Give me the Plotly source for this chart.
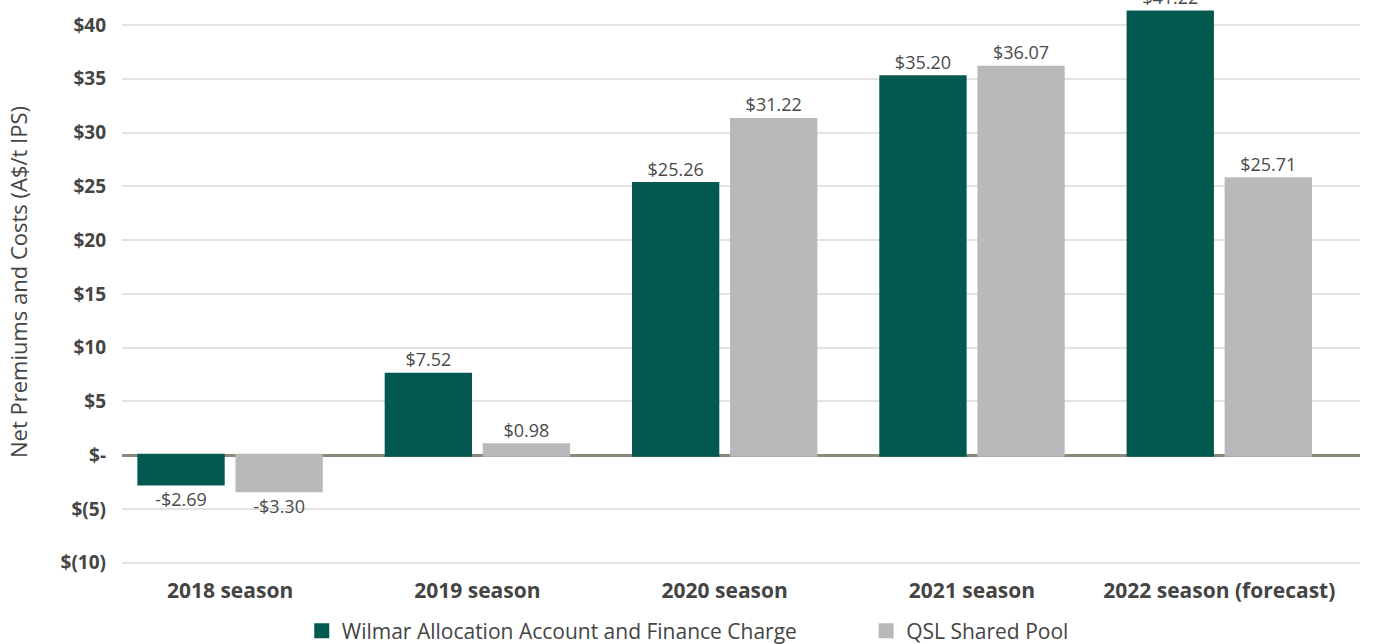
import plotly.graph_objects as go

categories = ["2018 season", "2019 season", "2020 season", "2021 season", "2022 season (forecast)"]
wilmar = [-2.69, 7.52, 25.26, 35.20, 41.22]
qsl = [-3.30, 0.98, 31.22, 36.07, 25.71]
wilmar_labels = ["-$2.69", "$7.52", "$25.26", "$35.20", "$41.22"]
qsl_labels = ["-$3.30", "$0.98", "$31.22", "$36.07", "$25.71"]
tick_vals = [-10, -5, 0, 5, 10, 15, 20, 25, 30, 35, 40]
tick_text = ["$(10)", "$(5)", "$-", "$5", "$10", "$15", "$20", "$25", "$30", "$35", "$40"]

FONT = "Open Sans"
GREEN = "#03594f"
GREY = "#b8b9bb"
LABEL_FONT = dict(family=FONT, size=18, color="#4a4a4a")

fig = go.Figure()
fig.add_trace(go.Bar(
    x=categories, y=wilmar, name="Wilmar Allocation Account and Finance Charge",
    marker=dict(color=GREEN, line=dict(color=GREEN, width=3)),
    text=wilmar_labels, textposition="outside",
    textfont=LABEL_FONT, cliponaxis=False, legend="legend",
))
fig.add_trace(go.Bar(
    x=categories, y=qsl, name="QSL Shared Pool",
    marker=dict(color=GREY, line=dict(color=GREY, width=3)),
    text=qsl_labels, textposition="outside",
    textfont=LABEL_FONT, cliponaxis=False, legend="legend2",
))

legend_common = dict(
    orientation="h", xref="container", yref="container",
    yanchor="middle", y=0.02, xanchor="left",
    font=dict(family=FONT, size=21, color="#444444"),
    bgcolor="rgba(0,0,0,0)",
)

fig.update_layout(
    width=1397, height=644,
    margin=dict(l=122, r=37, t=0, b=80),
    paper_bgcolor="white", plot_bgcolor="white",
    barmode="group", bargap=0.207, bargroupgap=0.14,
    font=dict(family=FONT, color="#444444"),
    showlegend=True,
    legend=dict(x=0.216, **legend_common),
    legend2=dict(x=0.620, **legend_common),
    uniformtext=dict(mode=False),
)
fig.update_xaxes(
    type="category", range=[-0.437, 4.569], automargin=False,
    showgrid=False, showline=False, ticks="", ticklabelstandoff=12,
    tickfont=dict(family=FONT, size=21, color="#444444", weight="bold"),
)
fig.update_yaxes(
    range=[-10.12, 42.33], tickvals=tick_vals, ticktext=tick_text, automargin=False,
    showgrid=True, gridcolor="#e3e3df", gridwidth=2,
    zeroline=True, zerolinecolor="#8a8a78", zerolinewidth=2.5,
    showline=False, ticks="", ticklabelstandoff=15,
    tickfont=dict(family=FONT, size=19, color="#454545", weight="bold"),
    title=dict(text="Net Premiums and Costs (A$/t IPS)", standoff=26,
               font=dict(family=FONT, size=22, color="#444444")),
)

fig.write_html("out.html", config={"displayModeBar": False},
               post_script="document.body.style.margin='0';")
